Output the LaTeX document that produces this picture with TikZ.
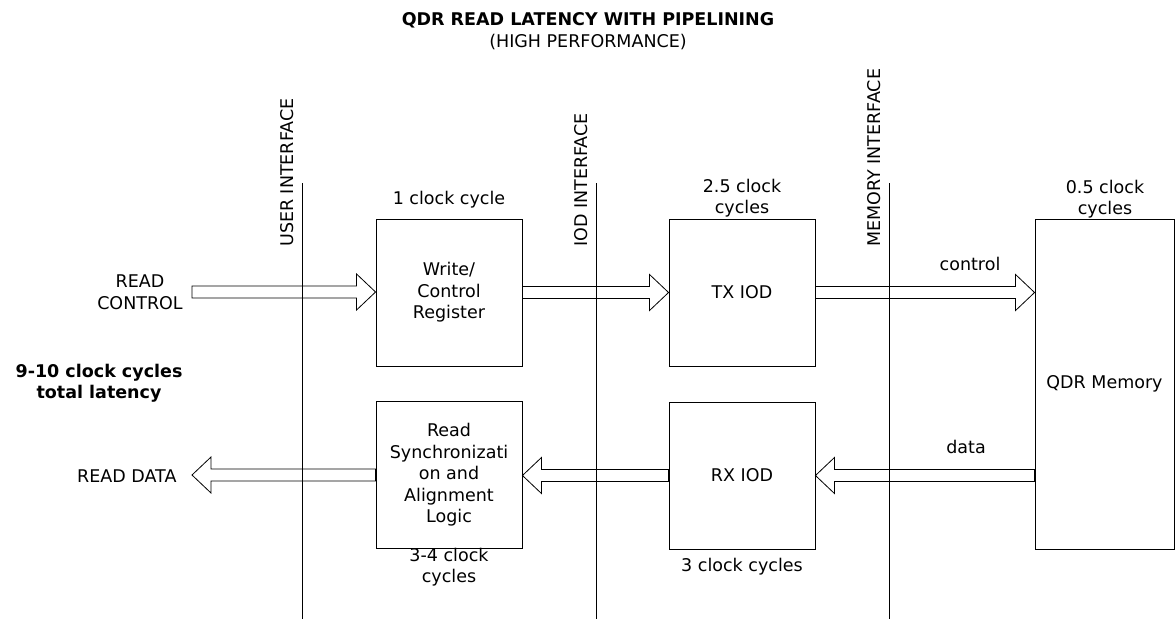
\documentclass[tikz,border=0pt]{standalone}
\usepackage{fontspec}
\setmainfont{DejaVu Sans}
\usetikzlibrary{calc}

\begin{document}
\begin{tikzpicture}[x=1pt,y=-1pt,font=\fontsize{17.5}{21.5}\selectfont,
  box/.style={draw,line width=0.9pt,minimum width=146pt,minimum height=147pt,inner sep=0pt,align=center},
  fat/.style={line width=0.8pt,to path={let \p1=(\tikztostart),\p2=(\tikztotarget),\n1={ifthenelse(\x2>\x1,-19,19)} in
    (\x1,{\y1+6pt}) -- ({\x2+(\n1)*1pt},{\y1+6pt}) -- ({\x2+(\n1)*1pt},{\y1+18pt}) -- (\x2,\y1)
    -- ({\x2+(\n1)*1pt},{\y1-18pt}) -- ({\x2+(\n1)*1pt},{\y1-6pt}) -- (\x1,{\y1-6pt}) -- cycle}}]
\useasboundingbox (0,0) rectangle (1175,619);
\node[font=\fontsize{17.5}{21.5}\selectfont\bfseries] (title) at (588,20) {QDR READ LATENCY WITH PIPELINING};
\node (sub) at (588,42) {(HIGH PERFORMANCE)};
% interface lines
\foreach \x/\name in {302/USER,596/IOD,889/MEMORY}{
  \draw[line width=0.9pt] (\x,183) -- (\x,619);
  \node[rotate=90,anchor=south west,inner sep=0pt] at (\x-8,247) {\name{} INTERFACE};
}
\node[box] (wcr) at (449,292.5) {Write/\\Control\\Register};
\node[box] (tx) at (742,292.5) {TX IOD};
\node[box] (rs) at (449,475) {Read\\Synchronizati\\on and\\Alignment\\Logic};
\node[box] (rx) at (742,475.5) {RX IOD};
\node[box,minimum width=139pt,minimum height=330pt] (qdr) at (1104.5,384) {QDR Memory};
% cycle counts
\node (c1) at (449,200) {1 clock cycle};
\node[align=center] (c2) at (742,198) {2.5 clock\\cycles};
\node[align=center] (c3) at (1105,199) {0.5 clock\\cycles};
\node[align=center] (c4) at (449,567) {3-4 clock\\cycles};
\node (c5) at (742,567) {3 clock cycles};
\node[align=center] (rc) at (140,292) {READ\\CONTROL};
\node[anchor=east] (rd) at (180,476) {READ DATA};
\node[align=center,font=\fontsize{17.5}{21.5}\selectfont\bfseries] (tot) at (99,383) {9-10 clock cycles\\total latency};
\node (ctl) at (970,264) {control};
\node (dat) at (966,447) {data};
\coordinate (rcin) at (192,292);
\coordinate (rdout) at (192,476);
\draw[fat] (rcin) to (wcr.west);
\draw[fat] (wcr.east) to (tx.west);
\draw[fat] (tx.east) to (qdr.west |- tx.east);
\draw[fat] (qdr.west |- rx.east) to (rx.east);
\draw[fat] (rx.west) to (rs.east);
\draw[fat] (rs.west) to (rdout);
\end{tikzpicture}
\end{document}
